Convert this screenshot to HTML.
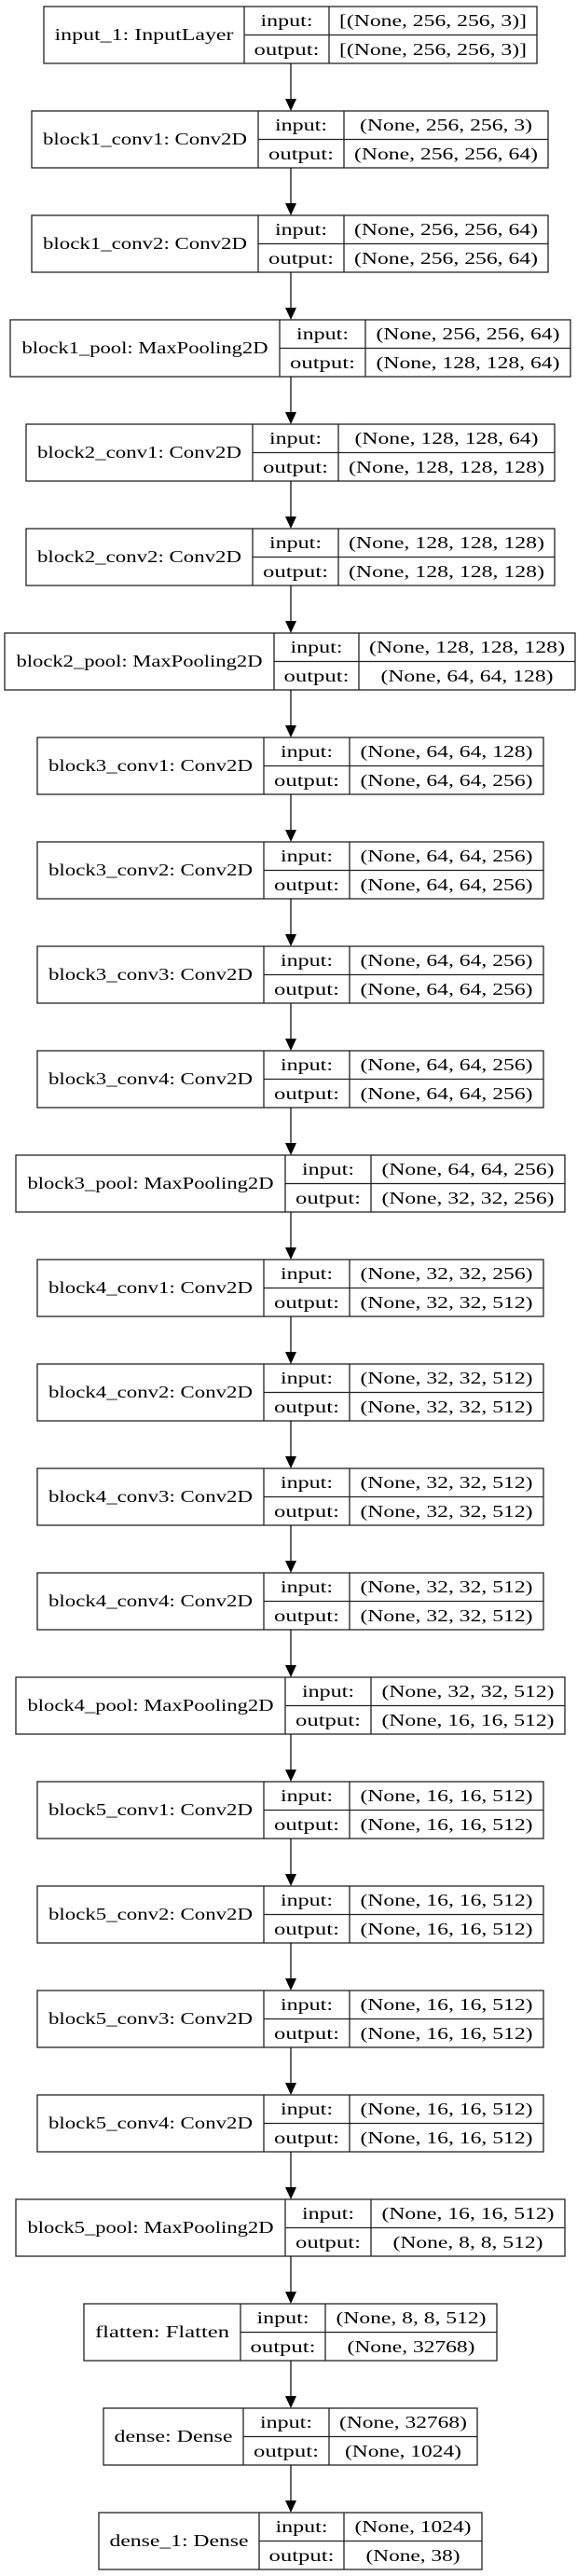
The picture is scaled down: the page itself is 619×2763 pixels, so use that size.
<!DOCTYPE html>
<html><head><meta charset="utf-8">
<style>
html,body{margin:0;padding:0;background:#fff;}
svg{display:block;}
text{font-family:"Liberation Serif",serif;font-size:18px;fill:#000;text-anchor:middle;}
rect,line.b{fill:none;stroke:#222;stroke-width:1.3;}
line.a{stroke:#000;stroke-width:1.2;}
polygon{fill:#000;}
</style></head><body>
<svg width="619" height="2763" viewBox="0 0 619 2763" xmlns="http://www.w3.org/2000/svg">
<defs>
<g id="arr"><line class="a" x1="312" y1="0" x2="312" y2="40"/><polygon points="306,38 318,38 312,51"/></g>
</defs>

<!-- 0 input_1 -->
<g transform="translate(0,7)">
<rect x="47" y="0" width="529" height="61"/><line class="b" x1="262" y1="0" x2="262" y2="61"/><line class="b" x1="353" y1="0" x2="353" y2="61"/><line class="b" x1="262" y1="30.5" x2="576" y2="30.5"/>
<text x="154.5" y="36" textLength="192" lengthAdjust="spacingAndGlyphs">input_1: InputLayer</text>
<text x="307.5" y="21" textLength="56" lengthAdjust="spacingAndGlyphs">input:</text>
<text x="307.5" y="52" textLength="70" lengthAdjust="spacingAndGlyphs">output:</text>
<text x="464.5" y="21" textLength="201" lengthAdjust="spacingAndGlyphs">[(None, 256, 256, 3)]</text>
<text x="464.5" y="52" textLength="201" lengthAdjust="spacingAndGlyphs">[(None, 256, 256, 3)]</text>
<use href="#arr" y="61"/></g>

<!-- 1 -->
<g transform="translate(0,119)">
<rect x="34" y="0" width="554" height="61"/><line class="b" x1="277" y1="0" x2="277" y2="61"/><line class="b" x1="369" y1="0" x2="369" y2="61"/><line class="b" x1="277" y1="30.5" x2="588" y2="30.5"/>
<text x="155.5" y="36" textLength="219" lengthAdjust="spacingAndGlyphs">block1_conv1: Conv2D</text>
<text x="323" y="21" textLength="56" lengthAdjust="spacingAndGlyphs">input:</text>
<text x="323" y="52" textLength="70" lengthAdjust="spacingAndGlyphs">output:</text>
<text x="478.5" y="21" textLength="185" lengthAdjust="spacingAndGlyphs">(None, 256, 256, 3)</text>
<text x="478.5" y="52" textLength="197" lengthAdjust="spacingAndGlyphs">(None, 256, 256, 64)</text>
<use href="#arr" y="61"/></g>

<!-- 2 -->
<g transform="translate(0,231)">
<rect x="34" y="0" width="554" height="61"/><line class="b" x1="277" y1="0" x2="277" y2="61"/><line class="b" x1="369" y1="0" x2="369" y2="61"/><line class="b" x1="277" y1="30.5" x2="588" y2="30.5"/>
<text x="155.5" y="36" textLength="219" lengthAdjust="spacingAndGlyphs">block1_conv2: Conv2D</text>
<text x="323" y="21" textLength="56" lengthAdjust="spacingAndGlyphs">input:</text>
<text x="323" y="52" textLength="70" lengthAdjust="spacingAndGlyphs">output:</text>
<text x="478.5" y="21" textLength="197" lengthAdjust="spacingAndGlyphs">(None, 256, 256, 64)</text>
<text x="478.5" y="52" textLength="197" lengthAdjust="spacingAndGlyphs">(None, 256, 256, 64)</text>
<use href="#arr" y="61"/></g>

<!-- 3 -->
<g transform="translate(0,343)">
<rect x="11" y="0" width="601" height="61"/><line class="b" x1="300" y1="0" x2="300" y2="61"/><line class="b" x1="392" y1="0" x2="392" y2="61"/><line class="b" x1="300" y1="30.5" x2="612" y2="30.5"/>
<text x="155.5" y="36" textLength="264" lengthAdjust="spacingAndGlyphs">block1_pool: MaxPooling2D</text>
<text x="346" y="21" textLength="56" lengthAdjust="spacingAndGlyphs">input:</text>
<text x="346" y="52" textLength="70" lengthAdjust="spacingAndGlyphs">output:</text>
<text x="502" y="21" textLength="197" lengthAdjust="spacingAndGlyphs">(None, 256, 256, 64)</text>
<text x="502" y="52" textLength="197" lengthAdjust="spacingAndGlyphs">(None, 128, 128, 64)</text>
<use href="#arr" y="61"/></g>

<!-- 4 -->
<g transform="translate(0,455)">
<rect x="28" y="0" width="567" height="61"/><line class="b" x1="271" y1="0" x2="271" y2="61"/><line class="b" x1="363" y1="0" x2="363" y2="61"/><line class="b" x1="271" y1="30.5" x2="595" y2="30.5"/>
<text x="149.5" y="36" textLength="219" lengthAdjust="spacingAndGlyphs">block2_conv1: Conv2D</text>
<text x="317" y="21" textLength="56" lengthAdjust="spacingAndGlyphs">input:</text>
<text x="317" y="52" textLength="70" lengthAdjust="spacingAndGlyphs">output:</text>
<text x="479" y="21" textLength="197" lengthAdjust="spacingAndGlyphs">(None, 128, 128, 64)</text>
<text x="479" y="52" textLength="210" lengthAdjust="spacingAndGlyphs">(None, 128, 128, 128)</text>
<use href="#arr" y="61"/></g>

<!-- 5 -->
<g transform="translate(0,567)">
<rect x="28" y="0" width="567" height="61"/><line class="b" x1="271" y1="0" x2="271" y2="61"/><line class="b" x1="363" y1="0" x2="363" y2="61"/><line class="b" x1="271" y1="30.5" x2="595" y2="30.5"/>
<text x="149.5" y="36" textLength="219" lengthAdjust="spacingAndGlyphs">block2_conv2: Conv2D</text>
<text x="317" y="21" textLength="56" lengthAdjust="spacingAndGlyphs">input:</text>
<text x="317" y="52" textLength="70" lengthAdjust="spacingAndGlyphs">output:</text>
<text x="479" y="21" textLength="210" lengthAdjust="spacingAndGlyphs">(None, 128, 128, 128)</text>
<text x="479" y="52" textLength="210" lengthAdjust="spacingAndGlyphs">(None, 128, 128, 128)</text>
<use href="#arr" y="61"/></g>

<!-- 6 -->
<g transform="translate(0,679)">
<rect x="5" y="0" width="612" height="61"/><line class="b" x1="294" y1="0" x2="294" y2="61"/><line class="b" x1="385" y1="0" x2="385" y2="61"/><line class="b" x1="294" y1="30.5" x2="617" y2="30.5"/>
<text x="149.5" y="36" textLength="264" lengthAdjust="spacingAndGlyphs">block2_pool: MaxPooling2D</text>
<text x="339.5" y="21" textLength="56" lengthAdjust="spacingAndGlyphs">input:</text>
<text x="339.5" y="52" textLength="70" lengthAdjust="spacingAndGlyphs">output:</text>
<text x="501" y="21" textLength="210" lengthAdjust="spacingAndGlyphs">(None, 128, 128, 128)</text>
<text x="501" y="52" textLength="185" lengthAdjust="spacingAndGlyphs">(None, 64, 64, 128)</text>
<use href="#arr" y="61"/></g>

<!-- 7 -->
<g transform="translate(0,791)">
<rect x="40" y="0" width="543" height="61"/><line class="b" x1="283" y1="0" x2="283" y2="61"/><line class="b" x1="375" y1="0" x2="375" y2="61"/><line class="b" x1="283" y1="30.5" x2="583" y2="30.5"/>
<text x="161.5" y="36" textLength="219" lengthAdjust="spacingAndGlyphs">block3_conv1: Conv2D</text>
<text x="329" y="21" textLength="56" lengthAdjust="spacingAndGlyphs">input:</text>
<text x="329" y="52" textLength="70" lengthAdjust="spacingAndGlyphs">output:</text>
<text x="479" y="21" textLength="185" lengthAdjust="spacingAndGlyphs">(None, 64, 64, 128)</text>
<text x="479" y="52" textLength="185" lengthAdjust="spacingAndGlyphs">(None, 64, 64, 256)</text>
<use href="#arr" y="61"/></g>

<!-- 8 -->
<g transform="translate(0,903)">
<rect x="40" y="0" width="543" height="61"/><line class="b" x1="283" y1="0" x2="283" y2="61"/><line class="b" x1="375" y1="0" x2="375" y2="61"/><line class="b" x1="283" y1="30.5" x2="583" y2="30.5"/>
<text x="161.5" y="36" textLength="219" lengthAdjust="spacingAndGlyphs">block3_conv2: Conv2D</text>
<text x="329" y="21" textLength="56" lengthAdjust="spacingAndGlyphs">input:</text>
<text x="329" y="52" textLength="70" lengthAdjust="spacingAndGlyphs">output:</text>
<text x="479" y="21" textLength="185" lengthAdjust="spacingAndGlyphs">(None, 64, 64, 256)</text>
<text x="479" y="52" textLength="185" lengthAdjust="spacingAndGlyphs">(None, 64, 64, 256)</text>
<use href="#arr" y="61"/></g>

<!-- 9 -->
<g transform="translate(0,1015)">
<rect x="40" y="0" width="543" height="61"/><line class="b" x1="283" y1="0" x2="283" y2="61"/><line class="b" x1="375" y1="0" x2="375" y2="61"/><line class="b" x1="283" y1="30.5" x2="583" y2="30.5"/>
<text x="161.5" y="36" textLength="219" lengthAdjust="spacingAndGlyphs">block3_conv3: Conv2D</text>
<text x="329" y="21" textLength="56" lengthAdjust="spacingAndGlyphs">input:</text>
<text x="329" y="52" textLength="70" lengthAdjust="spacingAndGlyphs">output:</text>
<text x="479" y="21" textLength="185" lengthAdjust="spacingAndGlyphs">(None, 64, 64, 256)</text>
<text x="479" y="52" textLength="185" lengthAdjust="spacingAndGlyphs">(None, 64, 64, 256)</text>
<use href="#arr" y="61"/></g>

<!-- 10 -->
<g transform="translate(0,1127)">
<rect x="40" y="0" width="543" height="61"/><line class="b" x1="283" y1="0" x2="283" y2="61"/><line class="b" x1="375" y1="0" x2="375" y2="61"/><line class="b" x1="283" y1="30.5" x2="583" y2="30.5"/>
<text x="161.5" y="36" textLength="219" lengthAdjust="spacingAndGlyphs">block3_conv4: Conv2D</text>
<text x="329" y="21" textLength="56" lengthAdjust="spacingAndGlyphs">input:</text>
<text x="329" y="52" textLength="70" lengthAdjust="spacingAndGlyphs">output:</text>
<text x="479" y="21" textLength="185" lengthAdjust="spacingAndGlyphs">(None, 64, 64, 256)</text>
<text x="479" y="52" textLength="185" lengthAdjust="spacingAndGlyphs">(None, 64, 64, 256)</text>
<use href="#arr" y="61"/></g>

<!-- 11 -->
<g transform="translate(0,1239)">
<rect x="17" y="0" width="589" height="61"/><line class="b" x1="306" y1="0" x2="306" y2="61"/><line class="b" x1="398" y1="0" x2="398" y2="61"/><line class="b" x1="306" y1="30.5" x2="606" y2="30.5"/>
<text x="161.5" y="36" textLength="264" lengthAdjust="spacingAndGlyphs">block3_pool: MaxPooling2D</text>
<text x="352" y="21" textLength="56" lengthAdjust="spacingAndGlyphs">input:</text>
<text x="352" y="52" textLength="70" lengthAdjust="spacingAndGlyphs">output:</text>
<text x="502" y="21" textLength="185" lengthAdjust="spacingAndGlyphs">(None, 64, 64, 256)</text>
<text x="502" y="52" textLength="185" lengthAdjust="spacingAndGlyphs">(None, 32, 32, 256)</text>
<use href="#arr" y="61"/></g>

<!-- 12 -->
<g transform="translate(0,1351)">
<rect x="40" y="0" width="543" height="61"/><line class="b" x1="283" y1="0" x2="283" y2="61"/><line class="b" x1="375" y1="0" x2="375" y2="61"/><line class="b" x1="283" y1="30.5" x2="583" y2="30.5"/>
<text x="161.5" y="36" textLength="219" lengthAdjust="spacingAndGlyphs">block4_conv1: Conv2D</text>
<text x="329" y="21" textLength="56" lengthAdjust="spacingAndGlyphs">input:</text>
<text x="329" y="52" textLength="70" lengthAdjust="spacingAndGlyphs">output:</text>
<text x="479" y="21" textLength="185" lengthAdjust="spacingAndGlyphs">(None, 32, 32, 256)</text>
<text x="479" y="52" textLength="185" lengthAdjust="spacingAndGlyphs">(None, 32, 32, 512)</text>
<use href="#arr" y="61"/></g>

<!-- 13 -->
<g transform="translate(0,1463)">
<rect x="40" y="0" width="543" height="61"/><line class="b" x1="283" y1="0" x2="283" y2="61"/><line class="b" x1="375" y1="0" x2="375" y2="61"/><line class="b" x1="283" y1="30.5" x2="583" y2="30.5"/>
<text x="161.5" y="36" textLength="219" lengthAdjust="spacingAndGlyphs">block4_conv2: Conv2D</text>
<text x="329" y="21" textLength="56" lengthAdjust="spacingAndGlyphs">input:</text>
<text x="329" y="52" textLength="70" lengthAdjust="spacingAndGlyphs">output:</text>
<text x="479" y="21" textLength="185" lengthAdjust="spacingAndGlyphs">(None, 32, 32, 512)</text>
<text x="479" y="52" textLength="185" lengthAdjust="spacingAndGlyphs">(None, 32, 32, 512)</text>
<use href="#arr" y="61"/></g>

<!-- 14 -->
<g transform="translate(0,1575)">
<rect x="40" y="0" width="543" height="61"/><line class="b" x1="283" y1="0" x2="283" y2="61"/><line class="b" x1="375" y1="0" x2="375" y2="61"/><line class="b" x1="283" y1="30.5" x2="583" y2="30.5"/>
<text x="161.5" y="36" textLength="219" lengthAdjust="spacingAndGlyphs">block4_conv3: Conv2D</text>
<text x="329" y="21" textLength="56" lengthAdjust="spacingAndGlyphs">input:</text>
<text x="329" y="52" textLength="70" lengthAdjust="spacingAndGlyphs">output:</text>
<text x="479" y="21" textLength="185" lengthAdjust="spacingAndGlyphs">(None, 32, 32, 512)</text>
<text x="479" y="52" textLength="185" lengthAdjust="spacingAndGlyphs">(None, 32, 32, 512)</text>
<use href="#arr" y="61"/></g>

<!-- 15 -->
<g transform="translate(0,1687)">
<rect x="40" y="0" width="543" height="61"/><line class="b" x1="283" y1="0" x2="283" y2="61"/><line class="b" x1="375" y1="0" x2="375" y2="61"/><line class="b" x1="283" y1="30.5" x2="583" y2="30.5"/>
<text x="161.5" y="36" textLength="219" lengthAdjust="spacingAndGlyphs">block4_conv4: Conv2D</text>
<text x="329" y="21" textLength="56" lengthAdjust="spacingAndGlyphs">input:</text>
<text x="329" y="52" textLength="70" lengthAdjust="spacingAndGlyphs">output:</text>
<text x="479" y="21" textLength="185" lengthAdjust="spacingAndGlyphs">(None, 32, 32, 512)</text>
<text x="479" y="52" textLength="185" lengthAdjust="spacingAndGlyphs">(None, 32, 32, 512)</text>
<use href="#arr" y="61"/></g>

<!-- 16 -->
<g transform="translate(0,1799)">
<rect x="17" y="0" width="589" height="61"/><line class="b" x1="306" y1="0" x2="306" y2="61"/><line class="b" x1="398" y1="0" x2="398" y2="61"/><line class="b" x1="306" y1="30.5" x2="606" y2="30.5"/>
<text x="161.5" y="36" textLength="264" lengthAdjust="spacingAndGlyphs">block4_pool: MaxPooling2D</text>
<text x="352" y="21" textLength="56" lengthAdjust="spacingAndGlyphs">input:</text>
<text x="352" y="52" textLength="70" lengthAdjust="spacingAndGlyphs">output:</text>
<text x="502" y="21" textLength="185" lengthAdjust="spacingAndGlyphs">(None, 32, 32, 512)</text>
<text x="502" y="52" textLength="185" lengthAdjust="spacingAndGlyphs">(None, 16, 16, 512)</text>
<use href="#arr" y="61"/></g>

<!-- 17 -->
<g transform="translate(0,1911)">
<rect x="40" y="0" width="543" height="61"/><line class="b" x1="283" y1="0" x2="283" y2="61"/><line class="b" x1="375" y1="0" x2="375" y2="61"/><line class="b" x1="283" y1="30.5" x2="583" y2="30.5"/>
<text x="161.5" y="36" textLength="219" lengthAdjust="spacingAndGlyphs">block5_conv1: Conv2D</text>
<text x="329" y="21" textLength="56" lengthAdjust="spacingAndGlyphs">input:</text>
<text x="329" y="52" textLength="70" lengthAdjust="spacingAndGlyphs">output:</text>
<text x="479" y="21" textLength="185" lengthAdjust="spacingAndGlyphs">(None, 16, 16, 512)</text>
<text x="479" y="52" textLength="185" lengthAdjust="spacingAndGlyphs">(None, 16, 16, 512)</text>
<use href="#arr" y="61"/></g>

<!-- 18 -->
<g transform="translate(0,2023)">
<rect x="40" y="0" width="543" height="61"/><line class="b" x1="283" y1="0" x2="283" y2="61"/><line class="b" x1="375" y1="0" x2="375" y2="61"/><line class="b" x1="283" y1="30.5" x2="583" y2="30.5"/>
<text x="161.5" y="36" textLength="219" lengthAdjust="spacingAndGlyphs">block5_conv2: Conv2D</text>
<text x="329" y="21" textLength="56" lengthAdjust="spacingAndGlyphs">input:</text>
<text x="329" y="52" textLength="70" lengthAdjust="spacingAndGlyphs">output:</text>
<text x="479" y="21" textLength="185" lengthAdjust="spacingAndGlyphs">(None, 16, 16, 512)</text>
<text x="479" y="52" textLength="185" lengthAdjust="spacingAndGlyphs">(None, 16, 16, 512)</text>
<use href="#arr" y="61"/></g>

<!-- 19 -->
<g transform="translate(0,2135)">
<rect x="40" y="0" width="543" height="61"/><line class="b" x1="283" y1="0" x2="283" y2="61"/><line class="b" x1="375" y1="0" x2="375" y2="61"/><line class="b" x1="283" y1="30.5" x2="583" y2="30.5"/>
<text x="161.5" y="36" textLength="219" lengthAdjust="spacingAndGlyphs">block5_conv3: Conv2D</text>
<text x="329" y="21" textLength="56" lengthAdjust="spacingAndGlyphs">input:</text>
<text x="329" y="52" textLength="70" lengthAdjust="spacingAndGlyphs">output:</text>
<text x="479" y="21" textLength="185" lengthAdjust="spacingAndGlyphs">(None, 16, 16, 512)</text>
<text x="479" y="52" textLength="185" lengthAdjust="spacingAndGlyphs">(None, 16, 16, 512)</text>
<use href="#arr" y="61"/></g>

<!-- 20 -->
<g transform="translate(0,2247)">
<rect x="40" y="0" width="543" height="61"/><line class="b" x1="283" y1="0" x2="283" y2="61"/><line class="b" x1="375" y1="0" x2="375" y2="61"/><line class="b" x1="283" y1="30.5" x2="583" y2="30.5"/>
<text x="161.5" y="36" textLength="219" lengthAdjust="spacingAndGlyphs">block5_conv4: Conv2D</text>
<text x="329" y="21" textLength="56" lengthAdjust="spacingAndGlyphs">input:</text>
<text x="329" y="52" textLength="70" lengthAdjust="spacingAndGlyphs">output:</text>
<text x="479" y="21" textLength="185" lengthAdjust="spacingAndGlyphs">(None, 16, 16, 512)</text>
<text x="479" y="52" textLength="185" lengthAdjust="spacingAndGlyphs">(None, 16, 16, 512)</text>
<use href="#arr" y="61"/></g>

<!-- 21 -->
<g transform="translate(0,2359)">
<rect x="17" y="0" width="589" height="61"/><line class="b" x1="306" y1="0" x2="306" y2="61"/><line class="b" x1="398" y1="0" x2="398" y2="61"/><line class="b" x1="306" y1="30.5" x2="606" y2="30.5"/>
<text x="161.5" y="36" textLength="264" lengthAdjust="spacingAndGlyphs">block5_pool: MaxPooling2D</text>
<text x="352" y="21" textLength="56" lengthAdjust="spacingAndGlyphs">input:</text>
<text x="352" y="52" textLength="70" lengthAdjust="spacingAndGlyphs">output:</text>
<text x="502" y="21" textLength="185" lengthAdjust="spacingAndGlyphs">(None, 16, 16, 512)</text>
<text x="502" y="52" textLength="161" lengthAdjust="spacingAndGlyphs">(None, 8, 8, 512)</text>
<use href="#arr" y="61"/></g>

<!-- 22 flatten -->
<g transform="translate(0,2471)">
<rect x="90" y="0" width="443" height="61"/><line class="b" x1="258" y1="0" x2="258" y2="61"/><line class="b" x1="349" y1="0" x2="349" y2="61"/><line class="b" x1="258" y1="30.5" x2="533" y2="30.5"/>
<text x="174" y="36" textLength="144" lengthAdjust="spacingAndGlyphs">flatten: Flatten</text>
<text x="303.5" y="21" textLength="56" lengthAdjust="spacingAndGlyphs">input:</text>
<text x="303.5" y="52" textLength="70" lengthAdjust="spacingAndGlyphs">output:</text>
<text x="441" y="21" textLength="161" lengthAdjust="spacingAndGlyphs">(None, 8, 8, 512)</text>
<text x="441" y="52" textLength="137" lengthAdjust="spacingAndGlyphs">(None, 32768)</text>
<use href="#arr" y="61"/></g>

<!-- 23 dense -->
<g transform="translate(0,2583)">
<rect x="111" y="0" width="401" height="61"/><line class="b" x1="261" y1="0" x2="261" y2="61"/><line class="b" x1="353" y1="0" x2="353" y2="61"/><line class="b" x1="261" y1="30.5" x2="512" y2="30.5"/>
<text x="186" y="36" textLength="127" lengthAdjust="spacingAndGlyphs">dense: Dense</text>
<text x="307" y="21" textLength="56" lengthAdjust="spacingAndGlyphs">input:</text>
<text x="307" y="52" textLength="70" lengthAdjust="spacingAndGlyphs">output:</text>
<text x="432.5" y="21" textLength="137" lengthAdjust="spacingAndGlyphs">(None, 32768)</text>
<text x="432.5" y="52" textLength="125" lengthAdjust="spacingAndGlyphs">(None, 1024)</text>
<use href="#arr" y="61"/></g>

<!-- 24 dense_1 -->
<g transform="translate(0,2695)">
<rect x="106" y="0" width="411" height="61"/><line class="b" x1="278" y1="0" x2="278" y2="61"/><line class="b" x1="369" y1="0" x2="369" y2="61"/><line class="b" x1="278" y1="30.5" x2="517" y2="30.5"/>
<text x="192" y="36" textLength="149" lengthAdjust="spacingAndGlyphs">dense_1: Dense</text>
<text x="323.5" y="21" textLength="56" lengthAdjust="spacingAndGlyphs">input:</text>
<text x="323.5" y="52" textLength="70" lengthAdjust="spacingAndGlyphs">output:</text>
<text x="443" y="21" textLength="125" lengthAdjust="spacingAndGlyphs">(None, 1024)</text>
<text x="443" y="52" textLength="101" lengthAdjust="spacingAndGlyphs">(None, 38)</text>
</g>
</svg>
</body></html>
